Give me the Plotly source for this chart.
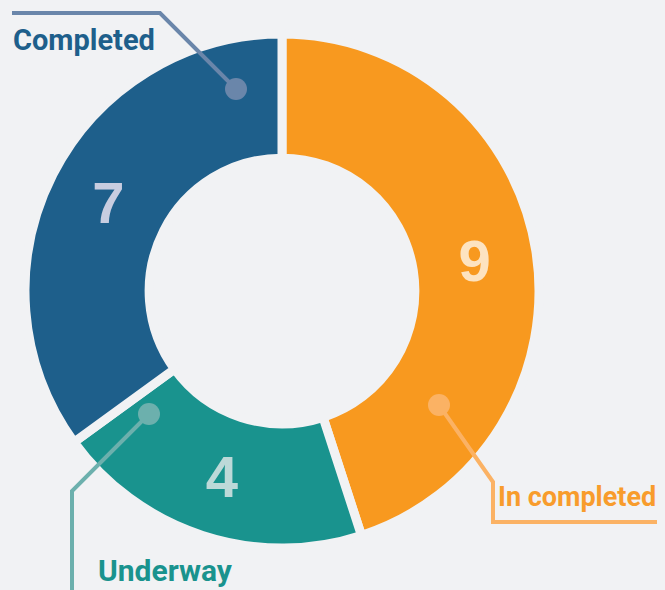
import plotly.graph_objects as go

# ---- data ----
categories = ["In completed", "Underway", "Completed"]
values = [9, 4, 7]
slice_colors = ["#f8991f", "#19938e", "#1e5f8b"]
number_colors = ["#fde3c0", "#bcd9d8", "#c8cde0"]
label_colors = ["#f89c2c", "#19938e", "#1e5f8b"]
leader_colors = ["#fbb264", "#6cb0ad", "#6a86aa"]
label_sizes = [27, 30, 29]

W, H = 665, 590
BG = "#f1f2f4"

def px(x):
    return x / W

def py(y):
    return 1 - y / H

cx, cy, R = 282, 291, 257

fig = go.Figure(go.Pie(
    labels=categories,
    values=values,
    sort=False,
    direction="clockwise",
    rotation=0,
    hole=0.517,
    marker=dict(colors=slice_colors, line=dict(color=BG, width=9)),
    textinfo="value",
    textposition="inside",
    insidetextorientation="horizontal",
    textfont=dict(family="Liberation Sans, Arial", size=58, color=number_colors, weight="bold"),
    showlegend=False,
    hoverinfo="label+value",
    domain=dict(x=[px(cx - R), px(cx + R)], y=[py(cy + R), py(cy - R)]),
))

# leader lines (pixel paths) and dots
leaders = [
    dict(path=[(439, 405), (493, 482), (493, 522), (657, 522)], color=leader_colors[0]),
    dict(path=[(149, 414), (72, 491), (72, 595)], color=leader_colors[1]),
    dict(path=[(236, 89), (160, 13), (12, 13)], color=leader_colors[2]),
]
shapes = []
for ld in leaders:
    pts = ld["path"]
    d = "M " + " L ".join(f"{px(x)},{py(y)}" for x, y in pts)
    shapes.append(dict(type="path", xref="paper", yref="paper", path=d,
                       line=dict(color=ld["color"], width=4)))
    x0, y0 = pts[0]
    r = 11
    shapes.append(dict(type="circle", xref="paper", yref="paper",
                       x0=px(x0 - r), x1=px(x0 + r), y0=py(y0 + r), y1=py(y0 - r),
                       fillcolor=ld["color"], line=dict(width=0)))

# (x, y, anchor)
label_pos = [(658, 497, "right"), (96, 570, "left"), (11, 40, "left")]
annotations = []
for name, col, sz, (x, y, anc) in zip(categories, label_colors, label_sizes, label_pos):
    annotations.append(dict(text=name, xref="paper", yref="paper", x=px(x), y=py(y),
                            xanchor=anc, yanchor="middle", showarrow=False,
                            font=dict(family="Roboto", size=sz, color=col, weight="bold")))

fig.update_layout(
    width=W, height=H,
    margin=dict(l=0, r=0, t=0, b=0),
    paper_bgcolor=BG, plot_bgcolor=BG,
    shapes=shapes, annotations=annotations,
)

fig.write_html("out.html", config={"displayModeBar": False},
               post_script="document.body.style.margin='0';")
